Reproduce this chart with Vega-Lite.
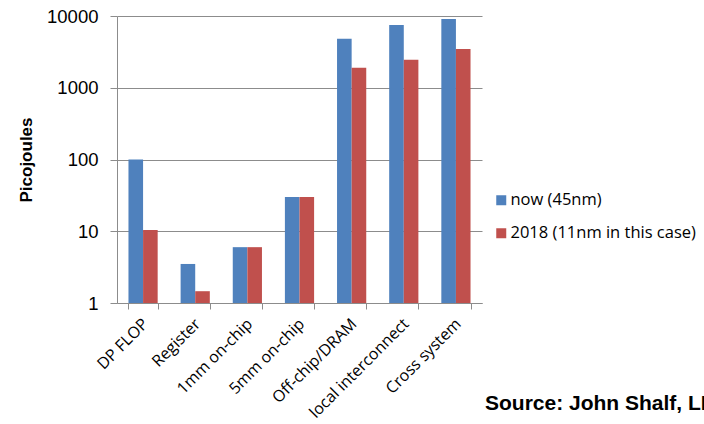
{
  "$schema": "https://vega.github.io/schema/vega-lite/v6.json",
  "width": 365,
  "height": 287,
  "autosize": {"type": "none"},
  "padding": {"left": 117, "top": 16, "right": 222, "bottom": 121},
  "background": "white",
  "config": {
    "view": {"stroke": null},
    "font": "Liberation Sans"
  },
  "title": {
    "text": "Source: John Shalf, LBNL",
    "orient": "bottom",
    "anchor": "start",
    "frame": "group",
    "dx": 368,
    "dy": -28,
    "offset": 0,
    "font": "Liberation Sans",
    "fontSize": 21,
    "fontWeight": "bold",
    "color": "#000000"
  },
  "data": {
    "values": [
      {"op": "DP FLOP", "series": "now (45nm)", "pj": 100},
      {"op": "DP FLOP", "series": "2018 (11nm in this case)", "pj": 10.4},
      {"op": "Register", "series": "now (45nm)", "pj": 3.5},
      {"op": "Register", "series": "2018 (11nm in this case)", "pj": 1.46},
      {"op": "1mm on-chip", "series": "now (45nm)", "pj": 6},
      {"op": "1mm on-chip", "series": "2018 (11nm in this case)", "pj": 6},
      {"op": "5mm on-chip", "series": "now (45nm)", "pj": 30},
      {"op": "5mm on-chip", "series": "2018 (11nm in this case)", "pj": 30},
      {"op": "Off-chip/DRAM", "series": "now (45nm)", "pj": 4800},
      {"op": "Off-chip/DRAM", "series": "2018 (11nm in this case)", "pj": 1900},
      {"op": "local interconnect", "series": "now (45nm)", "pj": 7500},
      {"op": "local interconnect", "series": "2018 (11nm in this case)", "pj": 2460},
      {"op": "Cross system", "series": "now (45nm)", "pj": 9100},
      {"op": "Cross system", "series": "2018 (11nm in this case)", "pj": 3470}
    ]
  },
  "mark": {"type": "bar"},
  "encoding": {
    "x": {
      "field": "op",
      "type": "nominal",
      "sort": null,
      "scale": {"paddingInner": 0.44, "paddingOuter": 0.22},
      "axis": {
        "title": null,
        "labelAngle": -45,
        "labelAlign": "right",
        "labelBaseline": "middle",
        "labelFont": "Open Sans",
        "labelFontSize": 16,
        "labelColor": "#000000",
        "labelPadding": 12,
        "labelOffset": 2,
        "tickBand": "extent",
        "tickSize": 6,
        "tickColor": "#8c8c8c",
        "domainColor": "#8c8c8c",
        "labelOverlap": false
      }
    },
    "xOffset": {
      "field": "series",
      "type": "nominal",
      "sort": ["now (45nm)", "2018 (11nm in this case)"]
    },
    "y": {
      "field": "pj",
      "type": "quantitative",
      "scale": {"type": "log", "domain": [1, 10000], "nice": false},
      "axis": {
        "title": "Picojoules",
        "titleFont": "Liberation Sans",
        "titleFontSize": 17,
        "titleFontWeight": "bold",
        "titleColor": "#000000",
        "titlePadding": 11,
        "values": [1, 10, 100, 1000, 10000],
        "format": "d",
        "labelFont": "Liberation Sans",
        "labelFontSize": 18.5,
        "labelColor": "#000000",
        "labelPadding": 12,
        "tickSize": 7,
        "tickColor": "#8c8c8c",
        "domainColor": "#8c8c8c",
        "grid": true,
        "gridColor": "#8c8c8c",
        "gridWidth": 1
      }
    },
    "y2": {"datum": 1},
    "color": {
      "field": "series",
      "type": "nominal",
      "sort": ["now (45nm)", "2018 (11nm in this case)"],
      "scale": {"range": ["#4F81BD", "#C0504D"]},
      "legend": {
        "title": null,
        "orient": "none",
        "legendX": 376,
        "legendY": 176,
        "symbolType": "square",
        "symbolSize": 100,
        "symbolStrokeWidth": 0,
        "labelFont": "Open Sans",
        "labelFontSize": 16.5,
        "labelColor": "#000000",
        "labelOffset": 1,
        "labelLimit": 0,
        "rowPadding": 16
      }
    }
  }
}
